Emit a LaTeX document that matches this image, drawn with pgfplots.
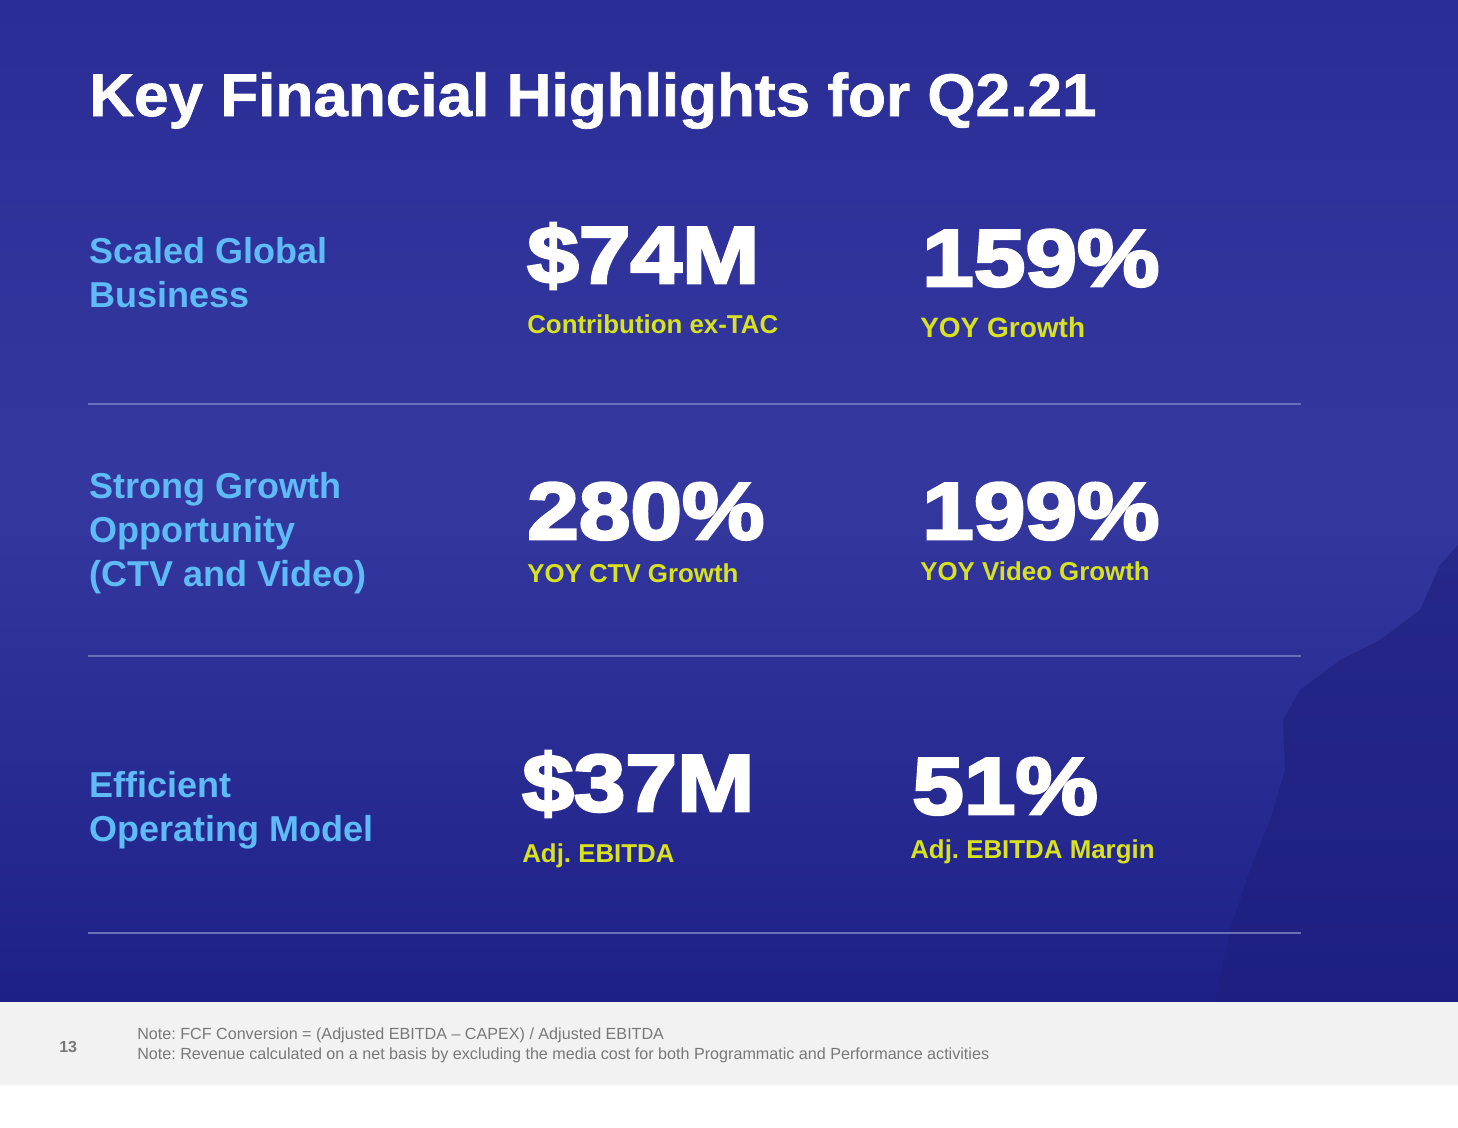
\documentclass[border=0pt]{standalone}
\usepackage{pgfplots}
\pgfplotsset{compat=1.18}
\usepackage{fontspec}
\setmainfont{Liberation Sans}
\newfontfamily\heavy{Liberation Sans}[UprightFont={* Bold},FakeBold=3.5,FakeStretch=1.15]
\newfontfamily\titlefont{Liberation Sans}[UprightFont={* Bold},FakeBold=1.2,FakeStretch=1.03]
\newfontfamily\bold{Liberation Sans}[UprightFont={* Bold}]
\definecolor{bgtop}{RGB}{42,45,150}
\definecolor{bgmid}{RGB}{52,56,158}
\definecolor{bgbot}{RGB}{30,32,136}
\definecolor{lblue}{RGB}{94,187,245}
\definecolor{ygreen}{RGB}{216,226,30}
\definecolor{sepline}{RGB}{106,112,184}
\definecolor{footbg}{RGB}{242,242,242}
\definecolor{foottxt}{RGB}{120,120,120}
\definecolor{mount}{RGB}{30,30,125}
\frenchspacing
\begin{document}
\begin{tikzpicture}
\begin{axis}[
  width=1093.5pt, height=845.25pt, scale only axis,
  xmin=0, xmax=1458, ymin=0, ymax=1127, y dir=reverse,
  hide axis, clip=false,
]
% backgrounds
\fill[white] (axis cs:0,0) rectangle (axis cs:1458,1127);
\fill[top color=bgtop, bottom color=bgmid] (axis cs:0,0) rectangle (axis cs:1458,500);
\fill[top color=bgmid, bottom color=bgbot] (axis cs:0,500) rectangle (axis cs:1458,1002);
\addplot[draw=none, fill=mount, fill opacity=0.6] coordinates {
  (1458,545) (1440,565) (1420,610) (1380,640) (1340,660) (1300,690) (1283,720)
  (1285,770) (1270,820) (1250,870) (1230,930) (1215,1002) (1458,1002) (1458,545)};
\fill[footbg] (axis cs:0,1002) rectangle (axis cs:1458,1085);
% separators
\draw[sepline, line width=2pt] (axis cs:88,404) -- (axis cs:1301,404);
\draw[sepline, line width=2pt] (axis cs:88,656) -- (axis cs:1301,656);
\draw[sepline, line width=2pt] (axis cs:88,933) -- (axis cs:1301,933);
% title
\node[anchor=base west, inner sep=0pt, text=white, font=\titlefont\fontsize{45.2}{50}\selectfont] at (axis cs:89,116) {Key Financial Highlights for Q2.21};
% left labels
\begin{scope}[every node/.style={anchor=base west, inner sep=0pt, text=lblue, font=\bold\fontsize{27}{30}\selectfont}]
\node at (axis cs:89,263) {Scaled Global};
\node at (axis cs:89,307) {Business};
\node at (axis cs:89,498) {Strong Growth};
\node at (axis cs:89,542) {Opportunity};
\node at (axis cs:89,586) {(CTV and Video)};
\node at (axis cs:89,797) {Efficient};
\node at (axis cs:89,841) {Operating Model};
\end{scope}
% big numbers
\begin{scope}[every node/.style={anchor=base west, inner sep=0pt, text=white, font=\heavy\fontsize{60.5}{70}\selectfont}]
\node at (axis cs:527,283) {\$74M};
\node at (axis cs:922,286) {159\%};
\node at (axis cs:527,539) {280\%};
\node at (axis cs:922,539) {199\%};
\node at (axis cs:522,811) {\$37M};
\node at (axis cs:912,814) {51\%};
\end{scope}
% sub labels
\begin{scope}[every node/.style={anchor=base west, inner sep=0pt, text=ygreen, font=\bold\fontsize{19.4}{24}\selectfont}]
\node at (axis cs:527,333) {Contribution ex-TAC};
\node[font=\bold\fontsize{21}{24}\selectfont] at (axis cs:920,337) {YOY Growth};
\node at (axis cs:527,582) {YOY CTV Growth};
\node at (axis cs:920,580) {YOY Video Growth};
\node at (axis cs:522,862) {Adj. EBITDA};
\node at (axis cs:910,858) {Adj. EBITDA Margin};
\end{scope}
% footer
\node[anchor=base west, inner sep=0pt, text=foottxt, font=\bold\fontsize{12}{14}\selectfont] at (axis cs:59,1052) {13};
\node[anchor=base west, inner sep=0pt, text=foottxt, font=\fontsize{12.1}{14}\selectfont] at (axis cs:137,1039) {Note: FCF Conversion = (Adjusted EBITDA – CAPEX) / Adjusted EBITDA};
\node[anchor=base west, inner sep=0pt, text=foottxt, font=\fontsize{12.1}{14}\selectfont] at (axis cs:137,1059) {Note: Revenue calculated on a net basis by excluding the media cost for both Programmatic and Performance activities};
\end{axis}
\end{tikzpicture}
\end{document}
